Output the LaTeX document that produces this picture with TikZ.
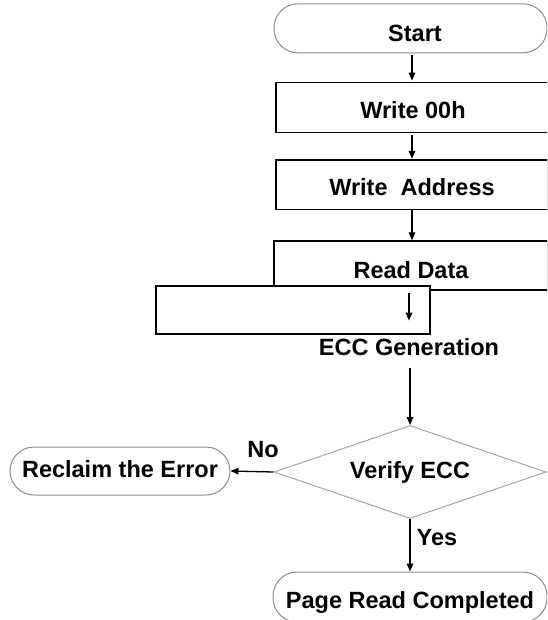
\documentclass[tikz,border=0pt]{standalone}
\usepackage{fontspec}
\setmainfont{Liberation Sans}
\usetikzlibrary{shapes.geometric,arrows.meta}
\definecolor{termgray}{RGB}{140,140,140}
\definecolor{decgray}{RGB}{165,165,165}
\begin{document}
\begin{tikzpicture}[x=1pt,y=-1pt,
  every node/.style={font=\fontsize{23.5}{28}\selectfont\bfseries, inner sep=0pt, text depth=0pt, text height=16.8pt},
  th/.style={text height=#1},
  rbox/.style={draw=black, line width=1.3pt, rectangle, minimum height=49.5pt},
  term/.style={draw=termgray, line width=1pt, rectangle, rounded corners=24pt, minimum height=49pt},
  dec/.style={draw=decgray, line width=1pt, diamond, aspect=2.92},
  arr/.style={draw=black, line width=1.3pt, -{Triangle[length=8pt,width=6.5pt]}}
]
\useasboundingbox (0,0) rectangle (547,620);
\clip (0,0) rectangle (547,620);
\coordinate (ax) at (412,0);
\coordinate (bx) at (409,0);
\coordinate (cx) at (410,0);

\node[term, minimum width=273pt, th=26.8pt] (start) at (410.5,28.3) {\hspace*{9pt}Start};
\node[rbox, minimum width=274pt, th=22.8pt] (w00) at (413,107.5) {Write 00h};
\node[rbox, minimum width=272pt, th=22.3pt] (wa) at (412,184.75) {Write\ \ Address};
\node[rbox, minimum width=274pt, minimum height=49pt, th=26.8pt] (rd) at (411,265.5) {Read Data};
\node[rbox, fill=white, minimum width=274pt, minimum height=48pt] (ecc) at (293,310) {};
\node (ecct) at (409,347) {ECC Generation};
\node[dec, minimum width=272pt, minimum height=93pt, th=13.8pt] (ver) at (410,472) {Verify ECC};
\node[term, minimum width=220pt, minimum height=48pt, th=12.8pt] (rec) at (120,471) {Reclaim the Error};
\node[term, minimum width=274pt, minimum height=50pt, th=22pt] (prc) at (410,597) {Page Read Completed};
\node (no) at (263,449) {No};
\node (yes) at (437,537) {Yes};

\draw[arr, shorten <=2pt, shorten >=1.5pt] (start.south -| ax) -- (w00.north -| ax);
\draw[arr, shorten <=2.5pt, shorten >=0.5pt] (w00.south -| ax) -- (wa.north -| ax);
\draw[arr] (wa.south -| ax) -- (rd.north -| ax);
\draw[arr, shorten <=2pt, shorten >=14pt] (rd.south -| bx) -- (ecc.south -| bx);
\draw[arr, shorten <=12.6pt] (ecct.south -| cx) -- (ver.north);
\draw[arr] (ver.west) -- (rec.east);
\draw[arr] (ver.south) -- (prc.north);
\end{tikzpicture}
\end{document}
